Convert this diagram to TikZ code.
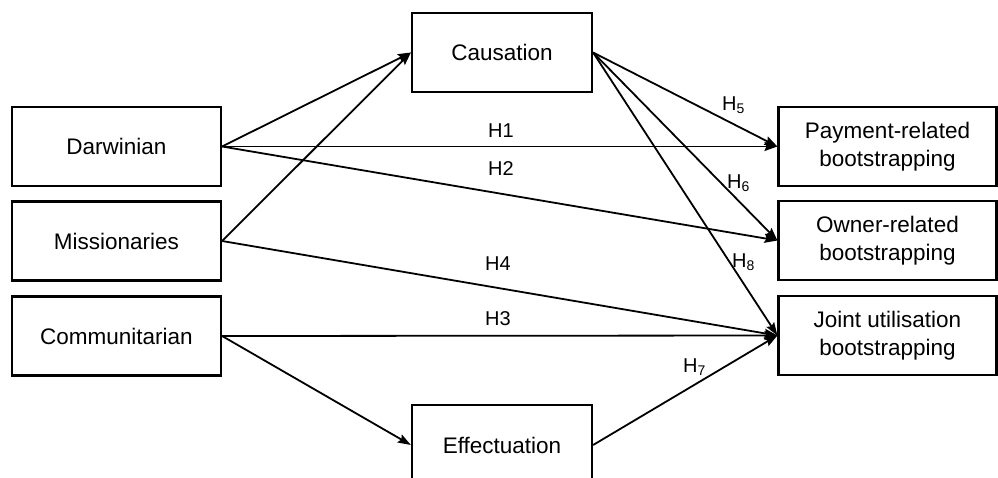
\documentclass[tikz,border=0pt]{standalone}
\usepackage{fontspec}
\setmainfont{Liberation Sans}
\usetikzlibrary{arrows.meta}
\begin{document}
\begin{tikzpicture}[x=1pt,y=-1pt,
  box/.style={draw=black,line width=2.2pt,rectangle,align=center,inner sep=0pt,
    font=\fontsize{22.5}{28}\selectfont},
  lbox/.style={box,minimum width=209pt,minimum height=79pt},
  mbox/.style={box,minimum width=180pt,minimum height=79pt},
  rbox/.style={box,minimum width=218pt,minimum height=79pt},
  conn/.style={line width=1.8pt,-{Stealth[length=13pt,width=9pt,inset=2pt]}},
  hlab/.style={anchor=base west,inner sep=0pt,font=\fontsize{20}{24}\selectfont}]
\useasboundingbox (0,0) rectangle (998,477);
\clip (0,0) rectangle (998,477);
\fill[white] (0,0) rectangle (998,477);
% left boxes
\node[lbox] (dar) at (116.5,146.5) {Darwinian};
\node[lbox] (mis) at (116.5,241) {Missionaries};
\node[lbox] (com) at (116.5,336) {Communitarian};
% middle boxes
\node[mbox] (cau) at (502,52.5) {Causation};
\node[mbox,minimum height=80pt] (eff) at (502,445) {Effectuation};
% right boxes
\node[rbox] (pay) at (887.5,146.5) {Payment-related\\bootstrapping};
\node[rbox] (own) at (887.5,240.5) {Owner-related\\bootstrapping};
\node[rbox] (joi) at (887.5,335.5) {Joint utilisation\\bootstrapping};
% connectors
\draw[conn] (dar.east) -- (cau.west);
\draw[conn] (mis.east) -- (cau.west);
\draw[conn] (dar.east) -- (pay.west);
\draw[conn] (dar.east) -- (own.west);
\draw[conn] (mis.east) -- (joi.west);
\draw[conn] (com.east) -- (joi.west);
\draw[conn] (com.east) -- (eff.west);
\draw[conn] (eff.east) -- (joi.west);
\draw[conn] (cau.east) -- (pay.west);
\draw[conn] (cau.east) -- (own.west);
\draw[conn] (cau.east) -- (joi.west);
% labels
\node[hlab] (h1) at (488,137) {H1};
\node[hlab] (h2) at (488,175) {H2};
\node[hlab] (h4) at (485,270) {H4};
\node[hlab] (h3) at (485,325) {H3};
\node[hlab] (h5) at (722,110) {H\textsubscript{5}};
\node[hlab] (h6) at (727,188) {H\textsubscript{6}};
\node[hlab] (h8) at (732,267) {H\textsubscript{8}};
\node[hlab] (h7) at (683,372) {H\textsubscript{7}};
\end{tikzpicture}
\end{document}
